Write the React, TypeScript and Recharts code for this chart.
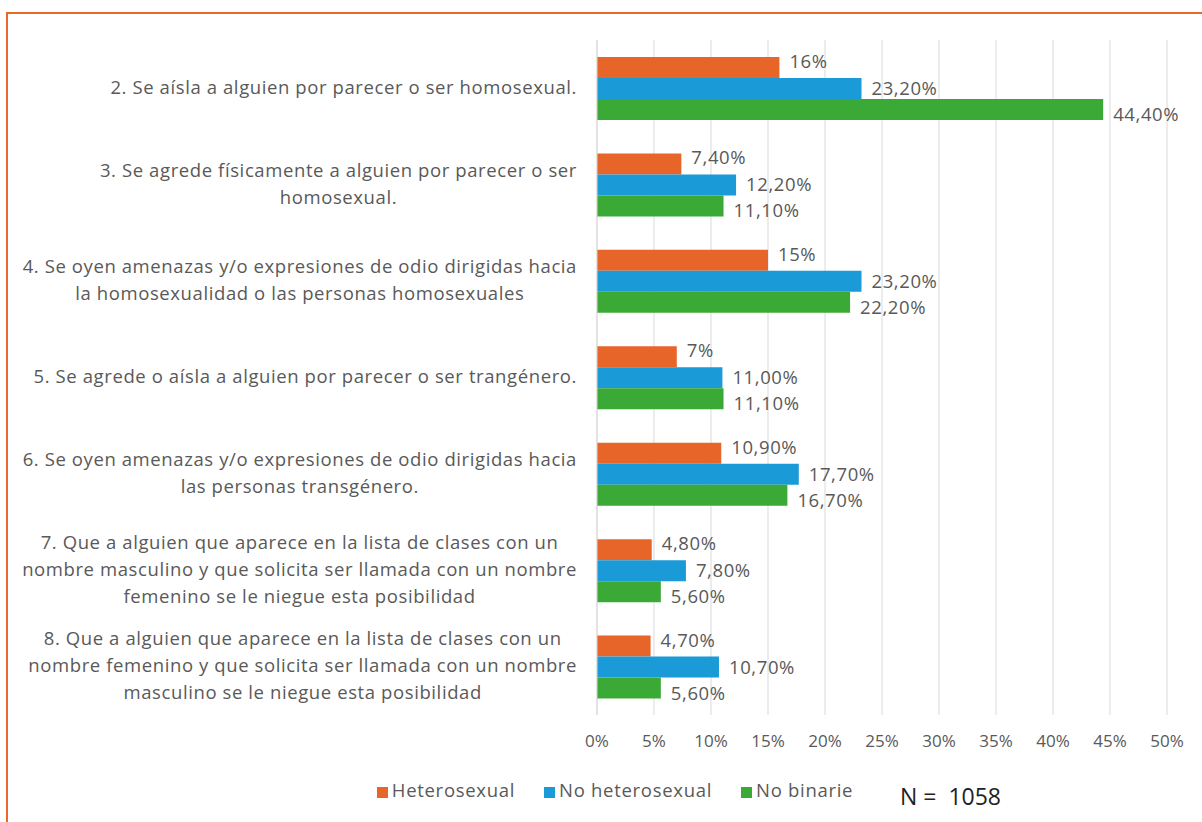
import { BarChart, Bar, XAxis, YAxis, CartesianGrid, Legend, LabelList } from 'recharts';

const CATEGORIES = [
  '2. Se aísla a alguien por parecer o ser homosexual.',
  '3. Se agrede físicamente a alguien por parecer o ser\nhomosexual.',
  '4. Se oyen amenazas y/o expresiones de odio dirigidas hacia\nla homosexualidad o las personas homosexuales',
  '5. Se agrede o aísla a alguien por parecer o ser trangénero.',
  '6. Se oyen amenazas y/o expresiones de odio dirigidas hacia\nlas personas transgénero.',
  '7. Que a alguien que aparece en la lista de clases con un\nnombre masculino y que solicita ser llamada con un nombre\nfemenino se le niegue esta posibilidad',
  '8. Que a alguien que aparece en la lista de clases con un\nnombre femenino y que solicita ser llamada con un nombre\nmasculino se le niegue esta posibilidad',
];
const HETERO = [16, 7.4, 15, 7, 10.9, 4.8, 4.7];
const NO_HETERO = [23.2, 12.2, 23.2, 11.0, 17.7, 7.8, 10.7];
const NO_BINARIE = [44.4, 11.1, 22.2, 11.1, 16.7, 5.6, 5.6];
const X_TICKS = [0, 5, 10, 15, 20, 25, 30, 35, 40, 45, 50];
const SERIES_ORDER = ['Heterosexual', 'No heterosexual', 'No binarie'];

const FONT = '"Open Sans", sans-serif';
const TEXT = '#595959';
const SIZE = 18.5;
const SPACING = 0.6;

const data = CATEGORIES.map((name, i) => ({
  name,
  hetero: HETERO[i],
  noHetero: NO_HETERO[i],
  noBinarie: NO_BINARIE[i],
}));

// medir texto para centrar las líneas dentro del bloque alineado a la derecha
let ctx: CanvasRenderingContext2D | null = null;
const measure = (s: string, size: number) => {
  if (!ctx) ctx = document.createElement('canvas').getContext('2d');
  let w = s.length * size * 0.48;
  if (ctx) {
    ctx.font = `${size}px "Open Sans"`;
    w = ctx.measureText(s).width;
  }
  return w + s.length * SPACING;
};

const CategoryTick = (props: any) => {
  const { y, payload } = props;
  const lines = String(payload.value).split('\n');
  const lh = 27;
  const blockW = Math.max(...lines.map((l) => measure(l, SIZE)));
  const cx = 577 - blockW / 2;
  const y0 = y - ((lines.length - 1) * lh) / 2 - 1;
  return (
    <text textAnchor="middle" fill={TEXT} fontSize={SIZE} fontFamily={FONT} letterSpacing={SPACING}>
      {lines.map((l, i) => (
        <tspan key={i} x={cx} y={y0 + i * lh} dy="0.35em">
          {l}
        </tspan>
      ))}
    </text>
  );
};

const fmtShort = (v: number) =>
  Number.isInteger(v) ? `${v}%` : `${v.toFixed(2).replace('.', ',')}%`;
const fmtLong = (v: number) => `${v.toFixed(2).replace('.', ',')}%`;

const makeLabel = (fmt: (v: number) => string, dy: number) => (p: any) => {
  const x = Number(p.x) + Number(p.width) + 10;
  const y = Number(p.y) + Number(p.height) / 2 + dy;
  return (
    <text
      x={x}
      y={y}
      dy="0.35em"
      fill={TEXT}
      fontSize={SIZE}
      fontFamily={FONT}
      letterSpacing={SPACING}
    >
      {fmt(Number(p.value))}
    </text>
  );
};

const legendText = (value: string) => (
  <span
    style={{
      color: TEXT,
      fontSize: SIZE,
      fontFamily: FONT,
      letterSpacing: 0.7,
      marginRight: 19,
    }}
  >
    {value}
  </span>
);

export default function App() {
  return (
    <div
      style={{
        position: 'absolute',
        left: 0,
        top: 0,
        width: 1202,
        height: 822,
        overflow: 'hidden',
        background: '#fff',
        fontFamily: FONT,
      }}
    >
      <div
        style={{
          position: 'absolute',
          left: 6,
          top: 12,
          width: 1300,
          height: 900,
          border: '2px solid #E8692B',
        }}
      />
      <div style={{ position: 'absolute', left: 0, top: 0 }}>
        <BarChart
          width={1202}
          height={822}
          layout="vertical"
          data={data}
          margin={{ top: 40, right: 35, bottom: 20, left: 0 }}
          barSize={21}
          barGap={0}
        >
          <CartesianGrid horizontal={false} stroke="#d9d9d9" />
          <XAxis
            type="number"
            domain={[0, 50]}
            ticks={X_TICKS}
            tickFormatter={(v) => `${v}%`}
            axisLine={false}
            tickLine={false}
            height={62}
            tick={{ fill: TEXT, fontSize: 17, fontFamily: FONT }}
            tickMargin={14}
          />
          <YAxis
            type="category"
            dataKey="name"
            width={597}
            axisLine={{ stroke: '#d9d9d9' }}
            tickLine={false}
            tick={<CategoryTick />}
            interval={0}
          />
          <Legend
            verticalAlign="bottom"
            iconType="square"
            iconSize={11}
            formatter={legendText}
            itemSorter={(item: any) => SERIES_ORDER.indexOf(item.value)}
            wrapperStyle={{ left: 46 }}
          />
          <Bar dataKey="hetero" name="Heterosexual" fill="#E8652A" isAnimationActive={false}>
            <LabelList dataKey="hetero" content={makeLabel(fmtShort, -6)} />
          </Bar>
          <Bar dataKey="noHetero" name="No heterosexual" fill="#1A9AD6" isAnimationActive={false}>
            <LabelList dataKey="noHetero" content={makeLabel(fmtLong, 0)} />
          </Bar>
          <Bar dataKey="noBinarie" name="No binarie" fill="#3BA935" isAnimationActive={false}>
            <LabelList dataKey="noBinarie" content={makeLabel(fmtLong, 5)} />
          </Bar>
        </BarChart>
      </div>
      <div
        style={{
          position: 'absolute',
          left: 900,
          top: 780,
          fontSize: 23,
          color: '#222',
          fontFamily: FONT,
          whiteSpace: 'pre',
        }}
      >
        {'N =  1058'}
      </div>
    </div>
  );
}
